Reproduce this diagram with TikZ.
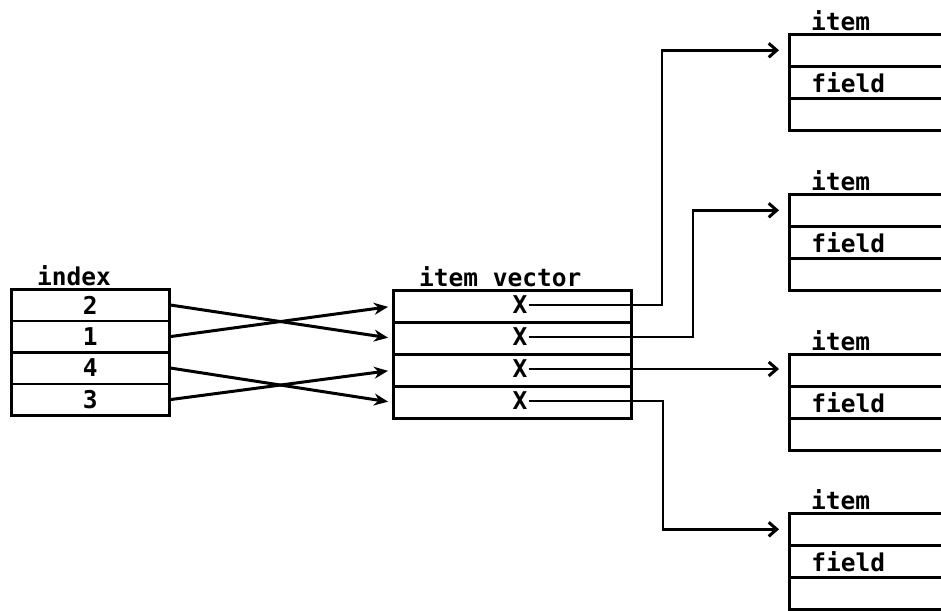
\documentclass[tikz,border=0pt]{standalone}
\usepackage{fontspec}
\setmainfont{DejaVu Sans Mono}
\usetikzlibrary{arrows.meta}
\begin{document}
\begin{tikzpicture}[x=1pt,y=-1pt,
  txtfont/.style={font=\fontsize{24.5}{28}\selectfont\bfseries},
  cell/.style={draw, line width=2.6pt, inner sep=0pt, anchor=north west, txtfont},
  idxcell/.style={cell, minimum width=158pt, minimum height=31.5pt},
  veccell/.style={cell, minimum width=238pt, minimum height=32pt},
  itemcell/.style={cell, minimum width=200pt, minimum height=32pt},
  fieldcell/.style={cell, text width=156pt, inner xsep=22pt, minimum height=32pt, align=left},
  lbl/.style={txtfont, inner sep=1pt},
  idxarrow/.style={-{Stealth[length=14pt,width=12pt]}, line width=3pt, shorten >=4pt},
  ptr/.style={-{Straight Barb[length=8pt,width=14pt,line width=3pt]}, line width=2.8pt, shorten >=9pt}
]
\clip (0,0) rectangle (941,610);
\fill[white] (0,0) rectangle (941,610);

% index table
\node[lbl, anchor=south west] (idxlbl) at (36,287) {index};
\node[idxcell] (i1) at (10,288) {2};
\node[idxcell] (i2) at (10,319.5) {1};
\node[idxcell] (i3) at (10,351) {4};
\node[idxcell] (i4) at (10,382.5) {3};

% item vector
\node[lbl, anchor=south west] (veclbl) at (418,288) {item vector};
\node[veccell] (v1) at (392,289) {};
\node[veccell] (v2) at (392,321) {};
\node[veccell] (v3) at (392,353) {};
\node[veccell] (v4) at (392,385) {};
\node[lbl] (x1) at (520,305) {X};
\node[lbl] (x2) at (520,337) {X};
\node[lbl] (x3) at (520,369) {X};
\node[lbl] (x4) at (520,401) {X};

% items
\foreach \k/\t in {1/33,2/193,3/353,4/512}{
  \node[lbl, anchor=south west] (lab\k) at (810,\t-1) {item};
  \node[itemcell] (a\k) at (788,\t) {};
  \node[fieldcell] (f\k) at (788,\t+32) {field};
  \node[itemcell] (c\k) at (788,\t+64) {};
}

% index -> item vector
\draw[idxarrow] (i1.east) -- (v2.west);
\draw[idxarrow] (i2.east) -- (v1.west);
\draw[idxarrow] (i3.east) -- (v4.west);
\draw[idxarrow] (i4.east) -- (v3.west);

% item vector -> items
\draw[ptr] (x1.east) -| (662,0 |- a1.west) -- (a1.west);
\draw[ptr] (x2.east) -| (693,0 |- a2.west) -- (a2.west);
\draw[ptr] (x3.east) -- (x3.east -| a3.west);
\draw[ptr] (x4.east) -| (663,0 |- a4.west) -- (a4.west);
\end{tikzpicture}
\end{document}
